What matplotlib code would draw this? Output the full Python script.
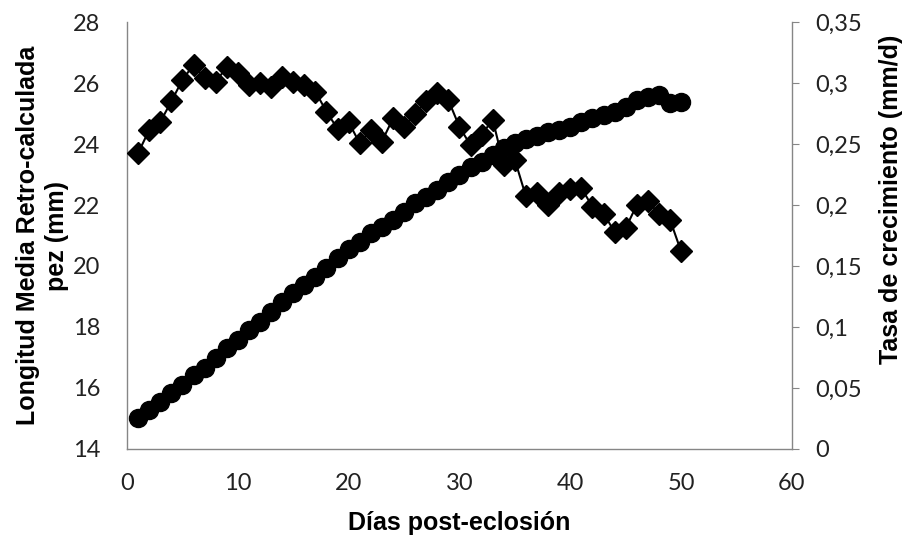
import matplotlib
matplotlib.use("Agg")
import matplotlib.pyplot as plt
from matplotlib.ticker import FuncFormatter

# days post-hatching
dias = list(range(1, 51))

# mean back-calculated length (mm), left axis
longitud = [15.01, 15.28, 15.55, 15.83, 16.10, 16.43, 16.65, 16.98, 17.31, 17.57,
            17.90, 18.17, 18.50, 18.83, 19.10, 19.38, 19.65, 19.92, 20.25, 20.55,
            20.80, 21.07, 21.29, 21.51, 21.78, 22.06, 22.27, 22.49, 22.76, 22.98,
            23.26, 23.42, 23.64, 23.86, 24.02, 24.15, 24.27, 24.38, 24.45, 24.57,
            24.73, 24.84, 24.95, 25.06, 25.22, 25.44, 25.55, 25.61, 25.33, 25.39]

# growth rate (mm/d), right axis
tasa = [0.2425, 0.2615, 0.268, 0.285, 0.3025, 0.315, 0.304, 0.301, 0.313, 0.308,
        0.298, 0.300, 0.297, 0.305, 0.301, 0.298, 0.293, 0.2765, 0.2625, 0.268,
        0.2505, 0.2615, 0.252, 0.271, 0.264, 0.275, 0.285, 0.2915, 0.286, 0.264,
        0.249, 0.2575, 0.270, 0.233, 0.237, 0.207, 0.2095, 0.200, 0.2095, 0.213,
        0.214, 0.1985, 0.193, 0.178, 0.181, 0.200, 0.203, 0.193, 0.188, 0.162]

grey = "#868686"
tick_font = "Lato"
label_font = "Liberation Sans"

fig = plt.figure(figsize=(9.04, 5.37), dpi=100)
ax = fig.add_axes([0.1405, 0.1639, 0.7355, 0.7951])
ax2 = ax.twinx()

ax.plot(dias, longitud, color="black", lw=1.5, marker="o", ms=13, zorder=3)
ax2.plot(dias, tasa, color="black", lw=1.5, marker="D", ms=11, zorder=3)

ax.set_xlim(0, 60)
ax.set_ylim(14, 28)
ax.set_xticks(range(0, 61, 10))
ax.set_yticks(range(14, 29, 2))
ax2.set_ylim(0, 0.35)
ax2.set_yticks([0, 0.05, 0.1, 0.15, 0.2, 0.25, 0.3, 0.35])
ax2.yaxis.set_major_formatter(FuncFormatter(lambda v, p: ("%g" % round(v, 2)).replace(".", ",")))

for a in (ax, ax2):
    a.spines["top"].set_visible(False)
    for s in a.spines.values():
        s.set_color(grey)
        s.set_linewidth(1.0)
ax.spines["right"].set_visible(False)
ax2.spines["left"].set_visible(False)
ax2.spines["bottom"].set_visible(False)

ax.tick_params(axis="y", length=0, pad=19, labelsize=17, labelcolor="#222222")
ax.tick_params(axis="x", length=0, pad=17, labelsize=17, labelcolor="#222222")
ax2.tick_params(axis="y", length=5, direction="out", color=grey, pad=12,
                labelsize=17, labelcolor="#222222")
for lab in ax.get_xticklabels() + ax.get_yticklabels() + ax2.get_yticklabels():
    lab.set_fontfamily(tick_font)

ax.set_xlabel("Días post-eclosión", fontsize=18, fontweight="bold",
              fontfamily=label_font)
ax.xaxis.set_label_coords(0.5, -0.145)
ax.set_ylabel("Longitud Media Retro-calculada\npez (mm)", fontsize=18,
              fontweight="bold", fontfamily=label_font, linespacing=1.25)
ax.yaxis.set_label_coords(-0.087, 0.5)
ax2.set_ylabel("Tasa de crecimiento (mm/d)", fontsize=18, fontweight="bold",
               fontfamily=label_font)
ax2.yaxis.set_label_coords(1.131, 0.585)

fig.savefig("out.png", dpi=100)
plt.close(fig)
